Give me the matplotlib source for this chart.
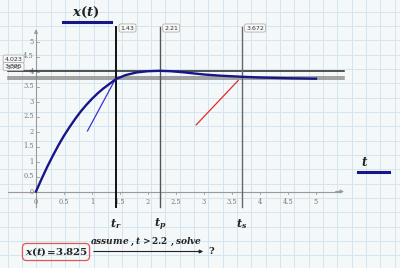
import matplotlib
matplotlib.use("Agg")
import matplotlib.pyplot as plt
import numpy as np

# response x(t)
t_vals = [0, 0.1, 0.2, 0.3, 0.4, 0.5, 0.6, 0.7, 0.8, 0.9, 1.0, 1.1, 1.2, 1.3,
          1.43, 1.6, 1.8, 2.0, 2.21, 2.4, 2.6, 2.8, 3.0, 3.3, 3.672, 4.0, 4.5, 5.0]
x_vals = [0, 0.42, 0.82, 1.19, 1.54, 1.86, 2.15, 2.42, 2.67, 2.89, 3.09, 3.27, 3.43, 3.57,
          3.75, 3.88, 3.97, 4.01, 4.023, 4.01, 3.98, 3.94, 3.90, 3.86, 3.825, 3.80, 3.775, 3.76]

# markers
h_levels = [4.023, 3.825, 3.75]
h_labels = ["4.023", "3.825", "3.75"]
v_times = [1.43, 2.21, 3.672]
v_labels = ["1.43", "2.21", "3.672"]
v_names = [r"$t_r$", r"$t_p$", r"$t_s$"]

# annotation arrows (start, end)
blue_seg = ([0.92, 1.41], [2.02, 3.72])
red_seg = ([2.86, 3.61], [2.22, 3.70])

x_ticks = [0, 0.5, 1, 1.5, 2, 2.5, 3, 3.5, 4, 4.5, 5]
y_ticks = [0, 0.5, 1, 1.5, 2, 2.5, 3, 3.5, 4, 4.5, 5]

W, H = 400, 268
X0, SX = 36.0, 56.0     # pixel of t=0, px per unit
Y0, SY = 191.5, 30.0    # pixel of x=0, px per unit

plt.rcParams["mathtext.fontset"] = "custom"
plt.rcParams["mathtext.rm"] = "DejaVu Serif:bold"
plt.rcParams["mathtext.it"] = "DejaVu Serif:italic:bold"
plt.rcParams["mathtext.bf"] = "DejaVu Serif:bold"

fig = plt.figure(figsize=(W / 100, H / 100), dpi=100)
fig.patch.set_facecolor("#f4f8f8")

# background grid paper (pixel coords)
bg = fig.add_axes([0, 0, 1, 1])
bg.set_xlim(0, W)
bg.set_ylim(H, 0)
bg.axis("off")
step = 14.33
for gx in np.arange(7.7, W, step):
    bg.axvline(gx, color="#d3e5ef", lw=0.7, zorder=0)
for gy in np.arange(11.7, H, step):
    bg.axhline(gy, color="#d3e5ef", lw=0.7, zorder=0)

# data axes, mapped onto the same pixels
ax = fig.add_axes([0, 0, 1, 1])
ax.set_xlim(-X0 / SX, (W - X0) / SX)
ax.set_ylim((Y0 - H) / SY, Y0 / SY)
ax.patch.set_alpha(0)
ax.axis("off")

axc = "#9a9a9a"
ax.plot([-0.5, 5.45], [0, 0], color=axc, lw=0.8)
ax.plot([0, 0], [-0.5, 5.4], color=axc, lw=0.8)
ax.annotate("", xy=(5.55, 0), xytext=(5.3, 0),
            arrowprops=dict(arrowstyle="-|>", color=axc, lw=0.8, mutation_scale=5))
ax.annotate("", xy=(0, 5.5), xytext=(0, 5.2),
            arrowprops=dict(arrowstyle="-|>", color=axc, lw=0.8, mutation_scale=5))
for xt in x_ticks:
    ax.plot([xt, xt], [0, -0.08], color=axc, lw=0.6)
    ax.text(xt, -0.2, f"{xt:g}", ha="center", va="top", fontsize=4.8,
            color="#777777", family="DejaVu Serif")
for yt in y_ticks:
    ax.plot([0, 0.05], [yt, yt], color=axc, lw=0.6)
    ax.text(-0.04, yt, f"{yt:g}", ha="right", va="center", fontsize=4.8,
            color="#777777", family="DejaVu Serif")

# horizontal reference lines
h_colors = ["#222222", "#8a8a8a", "#8a8a8a"]
for lv, c in zip(h_levels, h_colors):
    ax.plot([-0.5, 5.5], [lv, lv], color=c, lw=1.1, zorder=3)
box = dict(boxstyle="round,pad=0.25,rounding_size=0.3", fc="#f7f7f7", ec="#b0b0b0", lw=0.6)
ax.text(-0.4, h_levels[0] + 0.39, h_labels[0], fontsize=4.5, ha="center", va="center",
        color="#333333", bbox=box, zorder=6)
ax.text(-0.4, h_levels[1] + 0.34, h_labels[1], fontsize=4.5, ha="center", va="center",
        color="#333333", bbox=box, zorder=6)
ax.text(-0.4, h_levels[2] + 0.37, h_labels[2], fontsize=4.5, ha="center", va="center",
        color="#333333", zorder=7)

# vertical markers
v_colors = ["#111111", "#555555", "#666666"]
v_widths = [1.4, 1.0, 1.0]
for tv, lab, nm, c, w in zip(v_times, v_labels, v_names, v_colors, v_widths):
    ax.plot([tv, tv], [-0.5, 5.5], color=c, lw=w, zorder=3)
    ax.text(tv + 0.08, 5.45, lab, fontsize=4.5, ha="left", va="center",
            color="#333333", bbox=box, zorder=6)
    ax.text(tv, -1.1, nm, fontsize=8, ha="center", va="center", color="#222222")

# response curve and annotation lines
ax.plot(t_vals, x_vals, color="#16168a", lw=1.7, zorder=5)
ax.plot(*blue_seg, color="#3535d0", lw=0.9, zorder=4)
ax.plot(*red_seg, color="#e02a2a", lw=0.9, zorder=4)

# legend-like labels
bg.text(86, 12, r"$x(t)$", fontsize=9.5, ha="center", va="center", color="#222222")
bg.plot([63, 111], [21.7, 21.7], color="#16168a", lw=2.2)
bg.text(365, 162, r"$t$", fontsize=8.5, ha="center", va="center", color="#222222")
bg.plot([358, 389], [172.3, 172.3], color="#16168a", lw=2.2)

# bottom expression
bg.text(56, 252, r"$x(t)\!=\!3.825$", fontsize=7.4, ha="center", va="center",
        color="#222222",
        bbox=dict(boxstyle="round,pad=0.2,rounding_size=0.4", fc="none", ec="#e05555", lw=0.9))
bg.text(146, 242, r"$assume\ ,t>2.2\ ,solve$", fontsize=6.5, ha="center", va="center",
        color="#222222")
bg.annotate("", xy=(206, 251.5), xytext=(91, 251.5),
            arrowprops=dict(arrowstyle="-|>", color="#222222", lw=0.8, mutation_scale=5))
bg.text(212, 251, r"$?$", fontsize=7, ha="center", va="center", color="#222222")

fig.savefig("out.png", dpi=100, facecolor=fig.get_facecolor())
